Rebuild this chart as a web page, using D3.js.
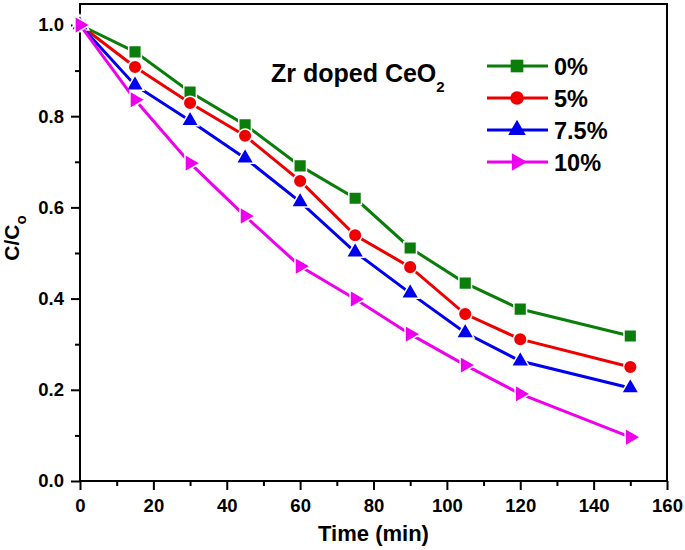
<!DOCTYPE html>
<html>
<head>
<meta charset="utf-8">
<script src="https://cdn.jsdelivr.net/npm/d3@7"></script>
<style>
  body { margin: 0; background: #fff; }
  text { font-family: "Liberation Sans", Arial, sans-serif; font-weight: bold; fill: #000; }
</style>
</head>
<body>
<div id="chart"></div>
<script>
// data
var times = [0, 15, 30, 45, 60, 75, 90, 105, 120, 150];
var zr0   = [1.0, 0.941, 0.853, 0.781, 0.691, 0.620, 0.511, 0.434, 0.377, 0.318];
var zr5   = [1.0, 0.908, 0.829, 0.757, 0.658, 0.539, 0.469, 0.366, 0.311, 0.250];
var zr75  = [1.0, 0.868, 0.790, 0.708, 0.612, 0.502, 0.412, 0.325, 0.263, 0.204];
var zr10  = [1.0, 0.836, 0.697, 0.581, 0.471, 0.399, 0.322, 0.254, 0.191, 0.096];
var seriesNames = ["0%", "5%", "7.5%", "10%"];
var xTicks = [0, 20, 40, 60, 80, 100, 120, 140, 160];
var yTicks = [0.0, 0.2, 0.4, 0.6, 0.8, 1.0];

var svgWidth = 685;
var svgHeight = 550;
var margin = { top: 4, right: 18, bottom: 69, left: 80 };
var width = svgWidth - margin.left - margin.right;
var height = svgHeight - margin.top - margin.bottom;

var svg = d3.select("#chart").append("svg")
  .attr("width", svgWidth)
  .attr("height", svgHeight);

var chartGroup = svg.append("g")
  .attr("transform", `translate(${margin.left}, ${margin.top})`);

var xScale = d3.scaleLinear().domain([0, 160]).range([0, width]);
var yScale = d3.scaleLinear().domain([0, 1.046]).range([height, 0]);

// minor ticks
chartGroup.append("g")
  .attr("transform", `translate(0, ${height})`)
  .call(d3.axisBottom(xScale).tickValues(d3.range(10, 160, 20)).tickSize(5).tickFormat("").tickSizeOuter(0))
  .call(g => g.select(".domain").remove())
  .selectAll("line").attr("stroke", "#000").attr("stroke-width", 2);

chartGroup.append("g")
  .call(d3.axisLeft(yScale).tickValues([0.1, 0.3, 0.5, 0.7, 0.9]).tickSize(5).tickFormat("").tickSizeOuter(0))
  .call(g => g.select(".domain").remove())
  .selectAll("line").attr("stroke", "#000").attr("stroke-width", 2);

// major ticks
var xAxis = chartGroup.append("g")
  .attr("transform", `translate(0, ${height})`)
  .call(d3.axisBottom(xScale).tickValues(xTicks).tickSize(9).tickPadding(9).tickSizeOuter(0));
xAxis.select(".domain").remove();
xAxis.selectAll("line").attr("stroke", "#000").attr("stroke-width", 2);
xAxis.selectAll("text").style("font-size", "18.5px");

var yAxis = chartGroup.append("g")
  .call(d3.axisLeft(yScale).tickValues(yTicks).tickSize(9).tickPadding(7).tickFormat(d3.format(".1f")).tickSizeOuter(0));
yAxis.select(".domain").remove();
yAxis.selectAll("line").attr("stroke", "#000").attr("stroke-width", 2);
yAxis.selectAll("text").style("font-size", "18.5px");

// frame
chartGroup.append("rect")
  .attr("x", 0).attr("y", 0)
  .attr("width", width).attr("height", height)
  .attr("fill", "none")
  .attr("stroke", "#000")
  .attr("stroke-width", 2);

var series = [
  { name: seriesNames[0], values: zr0, color: "#0a7d0a", symbol: d3.symbolSquare, size: 160, rot: 0 },
  { name: seriesNames[1], values: zr5, color: "#ee0000", symbol: d3.symbolCircle, size: 145, rot: 0 },
  { name: seriesNames[2], values: zr75, color: "#0000ee", symbol: d3.symbolTriangle, size: 135, rot: 0 },
  { name: seriesNames[3], values: zr10, color: "#ee00ee", symbol: d3.symbolTriangle, size: 135, rot: 90 }
];

var line = d3.line()
  .x(d => xScale(d[0]))
  .y(d => yScale(d[1]));

series.forEach(function(s) {
  var pts = times.map((t, i) => [t, s.values[i]]);
  chartGroup.append("path")
    .datum(pts)
    .attr("fill", "none")
    .attr("stroke", s.color)
    .attr("stroke-width", 3)
    .attr("d", line);
  chartGroup.selectAll(null)
    .data(pts)
    .enter()
    .append("path")
    .attr("d", d3.symbol().type(s.symbol).size(s.size))
    .attr("transform", d => `translate(${xScale(d[0])}, ${yScale(d[1])}) rotate(${s.rot})`)
    .attr("fill", s.color)
    .attr("stroke", "#fff")
    .attr("stroke-width", 1.5);
});

// legend
var legend = svg.append("g").attr("transform", "translate(487, 66)");
series.forEach(function(s, i) {
  var row = legend.append("g").attr("transform", `translate(0, ${i * 32})`);
  row.append("line")
    .attr("x1", 0).attr("x2", 61)
    .attr("y1", 0).attr("y2", 0)
    .attr("stroke", s.color)
    .attr("stroke-width", 3);
  row.append("path")
    .attr("d", d3.symbol().type(s.symbol).size(s.size))
    .attr("transform", `translate(30, 0) rotate(${s.rot})`)
    .attr("fill", s.color);
  row.append("text")
    .attr("x", 67)
    .attr("y", 9)
    .style("font-size", "23.5px")
    .text(s.name);
});

// annotation
var note = svg.append("text")
  .attr("x", 271)
  .attr("y", 82)
  .style("font-size", "25px");
note.append("tspan").text("Zr doped CeO");
note.append("tspan").attr("dy", 10).style("font-size", "15px").text("2");

// axis titles
var yTitle = chartGroup.append("text")
  .attr("transform", "rotate(-90)")
  .attr("x", -234)
  .attr("y", 0 - margin.left + 19)
  .attr("text-anchor", "middle")
  .style("font-size", "21px");
yTitle.append("tspan").text("C/C");
yTitle.append("tspan").attr("dy", 7).style("font-size", "15px").text("o");

chartGroup.append("text")
  .attr("x", width / 2)
  .attr("y", 537)
  .attr("text-anchor", "middle")
  .style("font-size", "22px")
  .text("Time (min)");
</script>
</body>
</html>
